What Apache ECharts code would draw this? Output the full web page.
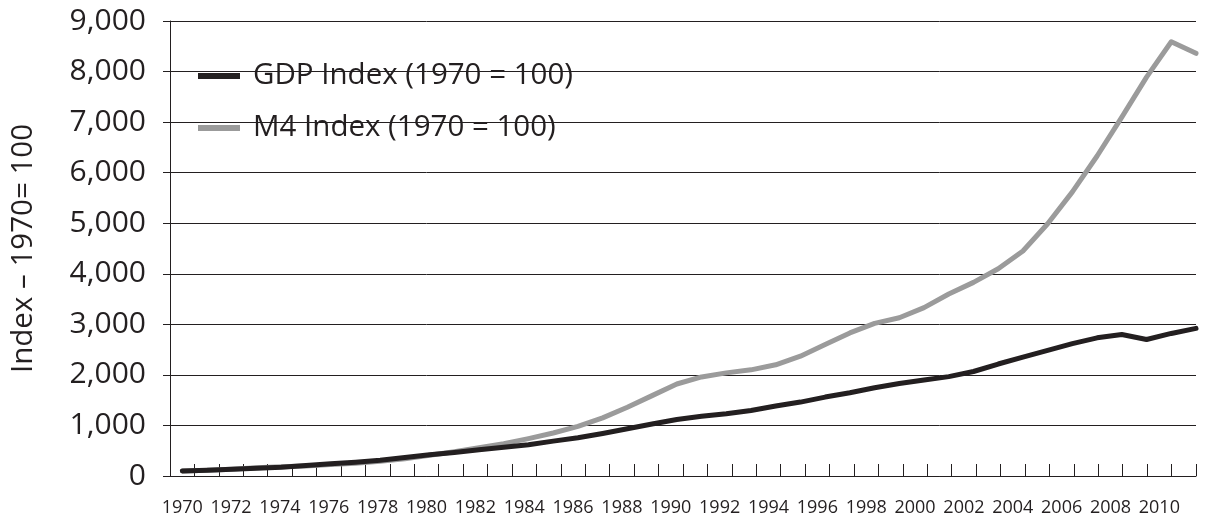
<!DOCTYPE html>
<html>
<head>
<meta charset="utf-8">
<script src="https://cdn.jsdelivr.net/npm/echarts@6/dist/echarts.min.js"></script>
<style>
html,body{margin:0;padding:0;background:#fff;}
#chart{width:1215px;height:530px;}
</style>
</head>
<body>
<div id="chart"></div>
<script>
const years = [];
for (let y = 1970; y <= 2011; y++) years.push(y);
const gdpIndex = [100,113,133,153,173,207,240,273,313,367,420,467,520,567,620,690,756,840,934,1030,1119,1180,1231,1297,1383,1462,1561,1647,1746,1830,1900,1966,2067,2215,2350,2484,2618,2733,2800,2700,2820,2920];
const m4Index = [100,112,135,165,185,200,225,250,290,340,410,480,560,640,740,850,980,1150,1360,1590,1820,1960,2040,2100,2200,2370,2600,2830,3020,3130,3330,3600,3830,4100,4450,4990,5620,6330,7100,7890,8590,8360];
const seriesNames = ['GDP Index (1970 = 100)', 'M4 Index (1970 = 100)'];
const yAxisTitle = 'Index – 1970= 100';

const FONT = '"Open Sans", sans-serif';
const INK = '#231f20';
const GREY = '#9b9b9b';

const chart = echarts.init(document.getElementById('chart'), null, {renderer: 'canvas'});
chart.setOption({
  animation: false,
  backgroundColor: '#fff',
  grid: {left: 170, right: 19, top: 21, bottom: 54, containLabel: false},
  legend: {
    orient: 'vertical',
    left: 198, top: 61,
    padding: 0,
    itemWidth: 42, itemHeight: 6,
    itemGap: 22,
    icon: 'rect',
    textStyle: {fontFamily: FONT, fontSize: 29.5, color: INK, padding: [0, 0, 0, 8]},
    data: seriesNames
  },
  xAxis: [{
    type: 'category',
    data: years.map(String),
    boundaryGap: true,
    axisLine: {show: true, lineStyle: {color: INK, width: 1}},
    axisTick: {show: true, inside: true, length: 12, interval: 0, lineStyle: {color: INK}},
    axisLabel: {interval: 1, fontFamily: FONT, fontSize: 18, color: INK, margin: 23},
    splitLine: {show: false}
  }, {
    type: 'value',
    min: 1969.5, max: 2011,
    show: false
  }],
  yAxis: {
    type: 'value',
    min: 0, max: 9000, interval: 1000,
    name: yAxisTitle,
    nameLocation: 'middle',
    nameGap: 131,
    nameTextStyle: {fontFamily: FONT, fontSize: 29.5, color: INK},
    axisLine: {show: true, lineStyle: {color: INK, width: 1}},
    axisTick: {show: true, inside: false, length: 7, lineStyle: {color: INK}},
    axisLabel: {fontFamily: FONT, fontSize: 30, color: INK, margin: 24,
      formatter: v => v.toLocaleString('en-US')},
    splitLine: {show: true, lineStyle: {color: INK, width: 1}}
  },
  series: [{
    name: seriesNames[0], type: 'line', xAxisIndex: 1,
    data: years.map((y, i) => [y, gdpIndex[i]]),
    showSymbol: false, symbol: 'none', z: 3,
    itemStyle: {color: INK},
    lineStyle: {color: INK, width: 5, cap: 'round', join: 'round'}
  }, {
    name: seriesNames[1], type: 'line', xAxisIndex: 1,
    data: years.map((y, i) => [y, m4Index[i]]),
    showSymbol: false, symbol: 'none', z: 2,
    itemStyle: {color: GREY},
    lineStyle: {color: GREY, width: 5, cap: 'round', join: 'round'}
  }]
});
</script>
</body>
</html>
